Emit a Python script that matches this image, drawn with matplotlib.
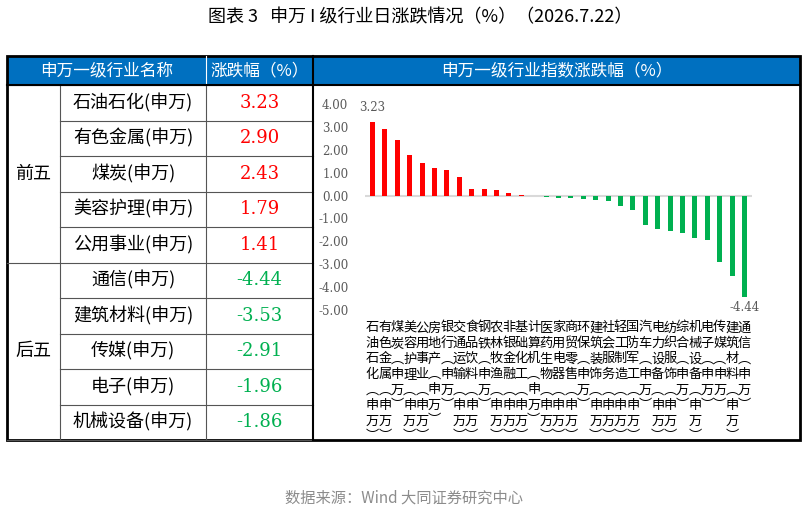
import matplotlib
matplotlib.use("Agg")
import matplotlib.pyplot as plt
from matplotlib.patches import Rectangle

plt.rcParams['font.family'] = ['Noto Sans CJK SC', 'DejaVu Sans']

industries = ["石油石化","有色金属","煤炭","美容护理","公用事业","房地产","银行","交通运输","食品饮料",
              "钢铁","农林牧渔","非银金融","基础化工","计算机","医药生物","家用电器","商贸零售","环保",
              "建筑装饰","社会服务","轻工制造","国防军工","汽车","电力设备","纺织服饰","综合","机械设备",
              "电子","传媒","建筑材料","通信"]
values = [3.23,2.90,2.43,1.79,1.41,1.22,1.13,0.80,0.30,0.27,0.23,0.10,0.03,-0.03,-0.07,-0.10,-0.10,
          -0.13,-0.20,-0.25,-0.45,-0.65,-1.30,-1.45,-1.55,-1.65,-1.86,-1.96,-2.91,-3.53,-4.44]
top_names = ["石油石化(申万)","有色金属(申万)","煤炭(申万)","美容护理(申万)","公用事业(申万)"]
top_vals = ["3.23","2.90","2.43","1.79","1.41"]
bot_names = ["通信(申万)","建筑材料(申万)","传媒(申万)","电子(申万)","机械设备(申万)"]
bot_vals = ["-4.44","-3.53","-2.91","-1.96","-1.86"]
yticks = [4,3,2,1,0,-1,-2,-3,-4,-5]

W, H = 807, 514
fig = plt.figure(figsize=(W/100, H/100), dpi=100)
fig.patch.set_facecolor('white')
ov = fig.add_axes([0,0,1,1]); ov.set_xlim(0,W); ov.set_ylim(H,0); ov.axis('off')

ov.text(420, 17, "图表 3   申万 I 级行业日涨跌情况（%）（2026.7.22）", ha='center', va='center', fontsize=13)
ov.text(404, 498, "数据来源：Wind 大同证券研究中心", ha='center', va='center', fontsize=11, color='#8c8c8c')

L, R, T, B = 7, 800, 56, 440
hdr = 85
ov.add_patch(Rectangle((L, T), R-L, hdr-T, facecolor='#0070c0', edgecolor='none'))
c1, c2, c3 = 60, 206, 313
ov.text((L+c2)/2, (T+hdr)/2, "申万一级行业名称", color='white', ha='center', va='center', fontsize=12)
ov.text((c2+c3)/2, (T+hdr)/2, "涨跌幅（%）", color='white', ha='center', va='center', fontsize=12)
ov.text((c3+R)/2, (T+hdr)/2, "申万一级行业指数涨跌幅（%）", color='white', ha='center', va='center', fontsize=12)
rh = (B-hdr)/10
lc = '#555555'
for i in range(11):
    y = hdr + i*rh
    x0 = L if i in (0, 5, 10) else c1
    ov.plot([x0, c3], [y, y], color=lc, lw=0.8)
for x in (c1, c2):
    ov.plot([x, x], [hdr, B], color=lc, lw=0.8)
ov.plot([c2, c2], [T, hdr], color='white', lw=0.8)
ov.plot([c3, c3], [T, B], color='black', lw=1.5)
ov.add_patch(Rectangle((L, T), R-L, B-T, facecolor='none', edgecolor='black', lw=2))
ov.plot([L, R], [hdr, hdr], color='black', lw=1.5)
ov.text((L+c1)/2, hdr+2.5*rh, "前五", ha='center', va='center', fontsize=13)
ov.text((L+c1)/2, hdr+7.5*rh, "后五", ha='center', va='center', fontsize=13)
for i, (n, v) in enumerate(zip(top_names+bot_names, top_vals+bot_vals)):
    y = hdr + (i+0.5)*rh
    ov.text((c1+c2)/2, y, n, ha='center', va='center', fontsize=13)
    ov.text((c2+c3)/2, y, v, ha='center', va='center', fontsize=13, family='DejaVu Serif',
            color='#ff0000' if i < 5 else '#00b050')

ax = fig.add_axes([365/W, 1-310/H, (752-365)/W, (310-104)/H])
colors = ['#ff0000' if v >= 0 else '#00b050' for v in values]
xs = list(range(len(values)))
ax.bar(xs, values, width=0.4, color=colors)
ax.axhline(0, color='#d9d9d9', lw=1.5, zorder=0)
ax.set_ylim(-5, 4); ax.set_xlim(-0.6, len(values)-0.4)
ax.set_yticks(yticks)
ax.set_yticklabels([f"{t:.2f}" for t in yticks], fontsize=8.5, color='#595959', family='DejaVu Serif')
ax.set_xticks([])
for s in ax.spines.values(): s.set_visible(False)
ax.tick_params(axis='y', length=0, pad=12)
ax.text(0, values[0]+0.35, f"{values[0]:.2f}", ha='center', va='bottom', fontsize=8.5, color='#595959', family='DejaVu Serif')
ax.text(len(values)-1, values[-1]-0.15, f"{values[-1]:.2f}", ha='center', va='top', fontsize=8.5, color='#595959', family='DejaVu Serif')
for x, n in zip(xs, industries):
    s = n + "︵申万︶"
    ax.text(x, -5.5, "\n".join(s), ha='center', va='top', fontsize=9.5, linespacing=1.25, clip_on=False)
fig.savefig("out.png", dpi=100)
